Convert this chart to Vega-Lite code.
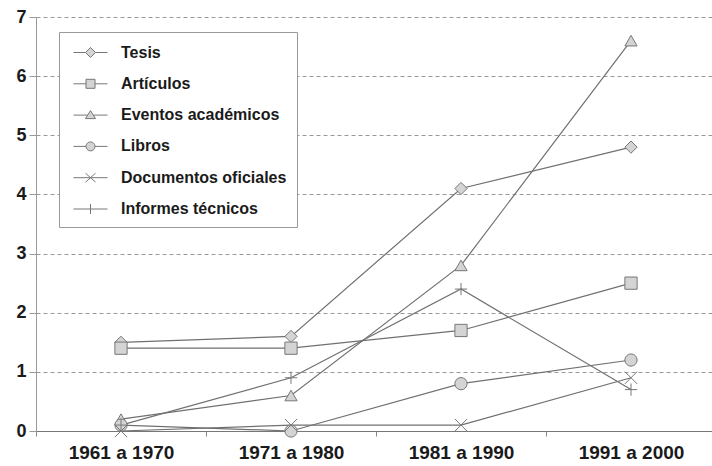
{
  "$schema": "https://vega.github.io/schema/vega-lite/v6.json",
  "width": 680,
  "height": 414,
  "autosize": {"type": "none"},
  "padding": {"left": 36, "top": 17, "right": 0, "bottom": 35},
  "background": "white",
  "config": {
    "view": {"stroke": null},
    "font": "Liberation Sans",
    "legend": {
      "symbolStrokeColor": "#777777",
      "symbolFillColor": "#d4d4d4",
      "symbolStrokeWidth": 1
    }
  },
  "data": {
    "values": [
      {"periodo": "1961 a 1970", "tipo": "Tesis", "valor": 1.5},
      {"periodo": "1971 a 1980", "tipo": "Tesis", "valor": 1.6},
      {"periodo": "1981 a 1990", "tipo": "Tesis", "valor": 4.1},
      {"periodo": "1991 a 2000", "tipo": "Tesis", "valor": 4.8},
      {"periodo": "1961 a 1970", "tipo": "Artículos", "valor": 1.4},
      {"periodo": "1971 a 1980", "tipo": "Artículos", "valor": 1.4},
      {"periodo": "1981 a 1990", "tipo": "Artículos", "valor": 1.7},
      {"periodo": "1991 a 2000", "tipo": "Artículos", "valor": 2.5},
      {"periodo": "1961 a 1970", "tipo": "Eventos académicos", "valor": 0.2},
      {"periodo": "1971 a 1980", "tipo": "Eventos académicos", "valor": 0.6},
      {"periodo": "1981 a 1990", "tipo": "Eventos académicos", "valor": 2.8},
      {"periodo": "1991 a 2000", "tipo": "Eventos académicos", "valor": 6.6},
      {"periodo": "1961 a 1970", "tipo": "Libros", "valor": 0.1},
      {"periodo": "1971 a 1980", "tipo": "Libros", "valor": 0.0},
      {"periodo": "1981 a 1990", "tipo": "Libros", "valor": 0.8},
      {"periodo": "1991 a 2000", "tipo": "Libros", "valor": 1.2},
      {"periodo": "1961 a 1970", "tipo": "Documentos oficiales", "valor": 0.0},
      {"periodo": "1971 a 1980", "tipo": "Documentos oficiales", "valor": 0.1},
      {"periodo": "1981 a 1990", "tipo": "Documentos oficiales", "valor": 0.1},
      {"periodo": "1991 a 2000", "tipo": "Documentos oficiales", "valor": 0.9},
      {"periodo": "1961 a 1970", "tipo": "Informes técnicos", "valor": 0.1},
      {"periodo": "1971 a 1980", "tipo": "Informes técnicos", "valor": 0.9},
      {"periodo": "1981 a 1990", "tipo": "Informes técnicos", "valor": 2.4},
      {"periodo": "1991 a 2000", "tipo": "Informes técnicos", "valor": 0.7}
    ]
  },
  "encoding": {
    "x": {
      "field": "periodo",
      "type": "nominal",
      "sort": null,
      "scale": {"type": "band", "paddingInner": 0, "paddingOuter": 0},
      "axis": {
        "title": null,
        "labelAngle": 0,
        "labelFont": "Liberation Sans",
        "labelFontWeight": "bold",
        "labelFontSize": 19,
        "labelColor": "#1a1a1a",
        "labelPadding": 7,
        "tickBand": "extent",
        "tickSize": 5,
        "tickColor": "#888888",
        "domainColor": "#777777",
        "domainWidth": 1.2,
        "grid": false
      }
    },
    "y": {
      "field": "valor",
      "type": "quantitative",
      "scale": {"domain": [0, 7], "nice": false},
      "axis": {
        "title": null,
        "values": [0, 1, 2, 3, 4, 5, 6, 7],
        "labelFont": "Liberation Sans",
        "labelFontWeight": "bold",
        "labelFontSize": 18,
        "labelColor": "#1a1a1a",
        "labelPadding": 3,
        "tickSize": 7,
        "tickColor": "#999999",
        "domainColor": "#999999",
        "grid": true,
        "gridColor": "#999999",
        "gridDash": [4, 3],
        "gridWidth": 1.2
      }
    }
  },
  "layer": [
    {
      "mark": {"type": "line", "color": "#707070", "strokeWidth": 1.2},
      "encoding": {"detail": {"field": "tipo"}}
    },
    {
      "mark": {"type": "point", "filled": false, "fill": "#d4d4d4", "fillOpacity": 1, "stroke": "#777777", "strokeWidth": 1, "opacity": 1, "size": 150},
      "encoding": {
        "shape": {
          "field": "tipo",
          "type": "nominal",
          "scale": {
            "domain": ["Tesis", "Artículos", "Eventos académicos", "Libros", "Documentos oficiales", "Informes técnicos"],
            "range": ["diamond", "square", "triangle-up", "circle", "M-1,-1L1,1M-1,1L1,-1", "M-1,0L1,0M0,-1L0,1"]
          },
          "legend": null
        }
      }
    },
    {
      "transform": [
        {"calculate": "datum.tipo", "as": "leyenda"},
        {"filter": "datum.valor < 0"}
      ],
      "mark": {"type": "point", "filled": true, "fill": "#d4d4d4", "opacity": 1},
      "encoding": {
        "shape": {
          "field": "leyenda",
          "type": "nominal",
          "scale": {
            "domain": ["Tesis", "Artículos", "Eventos académicos", "Libros", "Documentos oficiales", "Informes técnicos"],
            "range": [
              "M0.6,0L1.1,-0.5L1.6,0L1.1,0.5Z",
              "M0.65,-0.45L1.55,-0.45L1.55,0.45L0.65,0.45Z",
              "M1.1,-0.45L1.6,0.35L0.6,0.35Z",
              "M0.65,0A0.45,0.45 0 1,0 1.55,0A0.45,0.45 0 1,0 0.65,0Z",
              "M0,0",
              "M0,0"
            ]
          },
          "legend": {
            "title": null,
            "orient": "none",
            "legendX": 23,
            "legendY": 15,
            "padding": 10,
            "strokeColor": "#999999",
            "fillColor": "white",
            "cornerRadius": 0,
            "symbolSize": 400,
            "labelFont": "Liberation Sans",
            "labelFontWeight": "bold",
            "labelFontSize": 16,
            "labelColor": "#1a1a1a",
            "labelOpacity": 0,
            "labelOffset": 31,
            "labelLimit": 300,
            "rowPadding": 12.3
          }
        }
      }
    },
    {
      "transform": [
        {"calculate": "datum.tipo", "as": "leyenda2"},
        {"filter": "datum.valor < 0"}
      ],
      "mark": {"type": "point", "filled": false, "stroke": "#777777", "strokeWidth": 1, "opacity": 1},
      "encoding": {
        "shape": {
          "field": "leyenda2",
          "type": "nominal",
          "scale": {
            "domain": ["Tesis", "Artículos", "Eventos académicos", "Libros", "Documentos oficiales", "Informes técnicos"],
            "range": [
              "M-0.6,0L0.6,0M1.6,0L2.8,0M0.6,0L1.1,-0.5L1.6,0L1.1,0.5Z",
              "M-0.6,0L0.65,0M1.55,0L2.8,0M0.65,-0.45L1.55,-0.45L1.55,0.45L0.65,0.45Z",
              "M-0.6,0L0.82,0M1.38,0L2.8,0M1.1,-0.45L1.6,0.35L0.6,0.35Z",
              "M-0.6,0L0.65,0M1.55,0L2.8,0M0.65,0A0.45,0.45 0 1,0 1.55,0A0.45,0.45 0 1,0 0.65,0Z",
              "M-0.6,0L2.8,0M0.6,-0.45L1.6,0.45M0.6,0.45L1.6,-0.45",
              "M-0.6,0L2.8,0M1.1,-0.5L1.1,0.5"
            ]
          },
          "legend": {
            "title": null,
            "orient": "none",
            "legendX": 23,
            "legendY": 15,
            "padding": 10,
            "strokeColor": null,
            "fillColor": null,
            "cornerRadius": 0,
            "symbolSize": 400,
            "labelFont": "Liberation Sans",
            "labelFontWeight": "bold",
            "labelFontSize": 16,
            "labelColor": "#1a1a1a",
            "labelOffset": 31,
            "labelLimit": 300,
            "rowPadding": 12.3
          }
        }
      }
    }
  ],
  "resolve": {"scale": {"shape": "independent"}, "legend": {"shape": "independent"}}
}
